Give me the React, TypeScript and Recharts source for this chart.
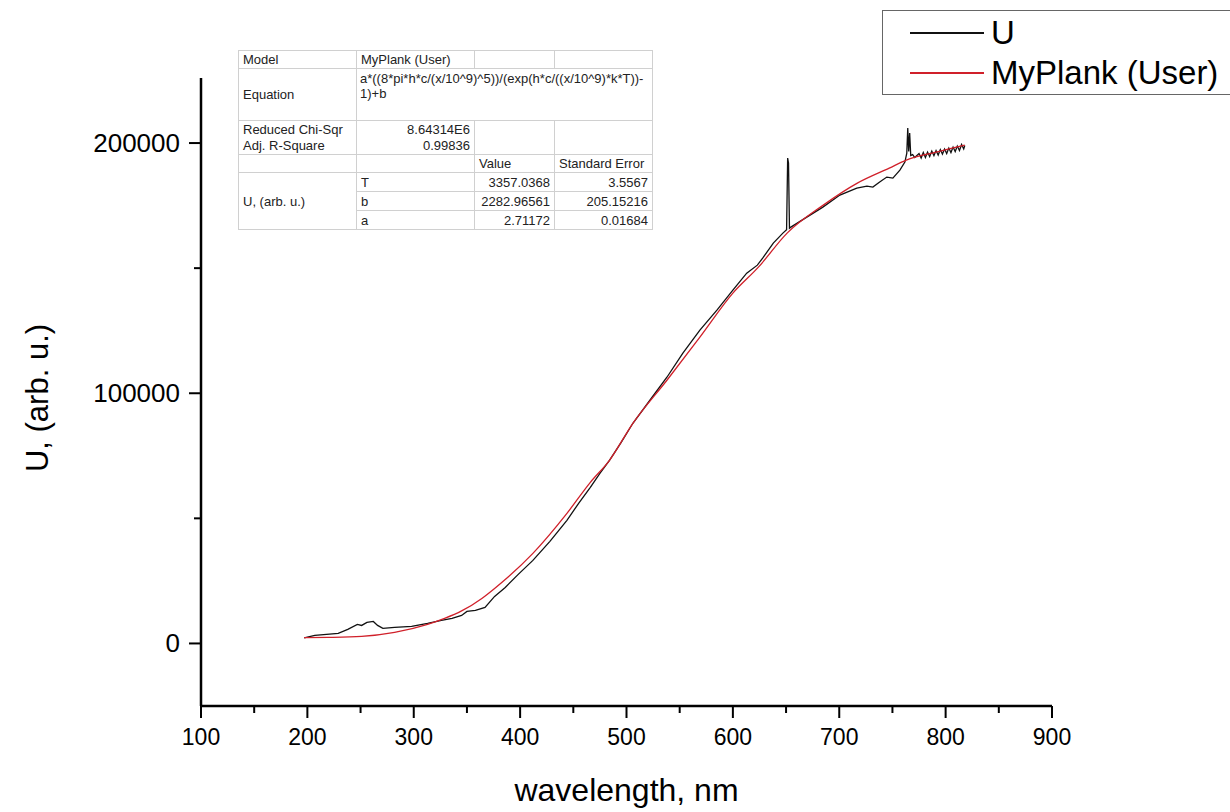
import React from 'react';
import { LineChart, Line, XAxis, YAxis, Legend } from 'recharts';

// measured spectrum U (wavelength nm -> arb. u.)
const uWl = [
  197, 207, 229, 238, 247, 251, 256, 262, 266, 271, 282, 298, 313, 326, 336, 345, 350, 358, 367, 376,
  386, 398, 412, 428, 444, 455, 466, 475, 484, 495, 506, 522, 538, 553, 569, 585, 600, 613, 623, 628,
  638, 647, 650.5, 651.5, 652.3, 653.2, 654.5, 669.5, 684.6, 700.6, 716.5, 726, 731.6, 738, 744.7, 750.4,
  757, 761.7, 763.5, 764.4, 765.3, 766.2, 767.2, 769, 771, 773, 775, 777, 779, 781, 783, 785, 787, 789,
  791, 793, 795, 797, 799, 801, 803, 805, 807, 809, 811, 813, 815, 817, 818,
];
const uVal = [
  2200, 3200, 4000, 5600, 7600, 7200, 8400, 8800, 7200, 6000, 6400, 6800, 8000, 9200, 10000, 11200, 12800, 13200, 14400, 18800,
  22400, 27500, 33200, 40800, 49200, 56000, 62400, 68000, 73200, 80400, 88000, 97200, 106400, 116000, 125200, 133200, 141200, 148000, 151200, 154000,
  160000, 164000, 165400, 194000, 192000, 166000, 166400, 170400, 174400, 179200, 182000, 182800, 182400, 184400, 186400, 186000,
  189200, 192400, 196000, 206000, 196600, 204000, 195000, 195400, 194200, 195000, 195800, 194000, 196200, 194200, 196400, 194600, 196800, 195000,
  197000, 195200, 197400, 195600, 197600, 195800, 198000, 196200, 198400, 196600, 198800, 197000, 199400, 197600, 199000,
];

// fitted curve MyPlank (User)
const fitWl = [197, 220, 251, 282, 313, 329, 345, 364, 376, 412, 444, 466, 484, 506, 538, 569, 600, 624, 651, 685, 717, 747, 763, 791, 818];
const fitVal = [
  2300, 2400, 2800, 4400, 7600, 10000, 13000, 18000, 22000, 36000, 52000, 64400, 73200, 88000, 105200, 122400, 140000,
  150400, 164000, 175200, 184000, 190000, 193200, 196400, 199200,
];

const xTicks = [100, 150, 200, 250, 300, 350, 400, 450, 500, 550, 600, 650, 700, 750, 800, 850, 900];
const yTicks = [0, 50000, 100000, 150000, 200000];

const paramNames = ['T', 'b', 'a'];
const paramValues = ['3357.0368', '2282.96561', '2.71172'];
const paramErrors = ['3.5567', '205.15216', '0.01684'];

const uData = uWl.map((wl, i) => ({ wl, u: uVal[i] }));
const fitData = fitWl.map((wl, i) => ({ wl, fit: fitVal[i] }));

const FONT = '"Liberation Sans", Arial, sans-serif';

function XTick({ x, y, payload }: any) {
  const major = payload.value % 100 === 0;
  return (
    <g>
      <line x1={x} x2={x} y1={y} y2={y + (major ? 12 : 7)} stroke="#000" strokeWidth={2} />
      {major && (
        <text x={x} y={y + 39} textAnchor="middle" fontSize={23} fontFamily={FONT} fill="#000">
          {payload.value}
        </text>
      )}
    </g>
  );
}

function YTick({ x, y, payload }: any) {
  const major = payload.value % 100000 === 0;
  return (
    <g>
      <line x1={x - (major ? 12 : 7)} x2={x} y1={y} y2={y} stroke="#000" strokeWidth={2} />
      {major && (
        <text x={x - 21} y={y + 9} textAnchor="end" fontSize={26} fontFamily={FONT} fill="#000">
          {payload.value}
        </text>
      )}
    </g>
  );
}

function renderLegend() {
  const items = [
    { color: '#111', label: 'U' },
    { color: '#d0202a', label: 'MyPlank (User)' },
  ];
  return (
    <div style={{ border: '1px solid #666', borderRight: 'none', height: 85, boxSizing: 'border-box', background: '#fff' }}>
      {items.map((it) => (
        <div key={it.label} style={{ display: 'flex', alignItems: 'center', height: 40, marginTop: it.label === 'U' ? 2 : 0 }}>
          <div style={{ width: 74, height: 1.5, background: it.color, marginLeft: 27, marginRight: 7 }} />
          <span style={{ fontFamily: FONT, fontSize: 33, color: '#000', whiteSpace: 'nowrap' }}>{it.label}</span>
        </div>
      ))}
    </div>
  );
}

const cell: React.CSSProperties = { border: '1px solid #d0d0d0', padding: '0 4px', whiteSpace: 'nowrap', overflow: 'hidden' };
const right: React.CSSProperties = { ...cell, textAlign: 'right' };

function FitTable() {
  return (
    <table
      style={{
        position: 'absolute', left: 238, top: 50, width: 414, borderCollapse: 'collapse', tableLayout: 'fixed',
        fontFamily: FONT, fontSize: 13, color: '#222', background: '#fff', border: '1px solid #999', lineHeight: '15px',
      }}
    >
      <colgroup>
        <col style={{ width: 118 }} />
        <col style={{ width: 118 }} />
        <col style={{ width: 80 }} />
        <col style={{ width: 98 }} />
      </colgroup>
      <tbody>
        <tr style={{ height: 18 }}>
          <td style={cell}>Model</td>
          <td style={cell}>MyPlank (User)</td>
          <td style={cell}></td>
          <td style={cell}></td>
        </tr>
        <tr style={{ height: 52 }}>
          <td style={cell}>Equation</td>
          <td colSpan={3} style={{ ...cell, verticalAlign: 'top', paddingTop: 2, paddingLeft: 3, overflow: 'visible' }}>
            a*((8*pi*h*c/(x/10^9)^5))/(exp(h*c/((x/10^9)*k*T))-
            <br />
            1)+b
          </td>
        </tr>
        <tr style={{ height: 17 }}>
          <td style={{ ...cell, borderBottom: 'none' }}>Reduced Chi-Sqr</td>
          <td style={{ ...right, borderBottom: 'none' }}>8.64314E6</td>
          <td rowSpan={2} style={cell}></td>
          <td rowSpan={2} style={cell}></td>
        </tr>
        <tr style={{ height: 17 }}>
          <td style={{ ...cell, borderTop: 'none' }}>Adj. R-Square</td>
          <td style={{ ...right, borderTop: 'none' }}>0.99836</td>
        </tr>
        <tr style={{ height: 18 }}>
          <td style={cell}></td>
          <td style={cell}></td>
          <td style={cell}>Value</td>
          <td style={cell}>Standard Error</td>
        </tr>
        {paramNames.map((p, i) => (
          <tr key={p} style={{ height: 19 }}>
            {i === 0 && (
              <td rowSpan={3} style={cell}>
                U, (arb. u.)
              </td>
            )}
            <td style={cell}>{p}</td>
            <td style={right}>{paramValues[i]}</td>
            <td style={right}>{paramErrors[i]}</td>
          </tr>
        ))}
      </tbody>
    </table>
  );
}

export default function App() {
  return (
    <div style={{ position: 'absolute', left: 0, top: 0, width: 1230, height: 812, background: '#fff', overflow: 'hidden' }}>
      <LineChart width={1230} height={812} margin={{ top: 78, right: 178, bottom: 0, left: 0 }}>
        <XAxis
          dataKey="wl"
          type="number"
          domain={[100, 900]}
          ticks={xTicks}
          interval={0}
          height={106}
          tickSize={0}
          tickMargin={0}
          tickLine={false}
          tick={<XTick />}
          axisLine={{ stroke: '#000', strokeWidth: 2.5 }}
          allowDataOverflow
          label={{
            content: ({ viewBox }: any) => (
              <text
                x={viewBox.x + viewBox.width / 2}
                y={viewBox.y + 95}
                textAnchor="middle"
                fontSize={32}
                fontFamily={FONT}
                fill="#000"
              >
                wavelength, nm
              </text>
            ),
          }}
        />
        <YAxis
          type="number"
          domain={[-25000, 226000]}
          ticks={yTicks}
          interval={0}
          width={201}
          tickSize={0}
          tickMargin={0}
          tickLine={false}
          tick={<YTick />}
          axisLine={{ stroke: '#000', strokeWidth: 2.5 }}
          allowDataOverflow
          label={{
            content: ({ viewBox }: any) => {
              const cx = viewBox.x + 48;
              const cy = viewBox.y + viewBox.height / 2 + 6;
              return (
                <text
                  x={cx}
                  y={cy}
                  transform={`rotate(-90 ${cx} ${cy})`}
                  textAnchor="middle"
                  fontSize={31}
                  fontFamily={FONT}
                  fill="#000"
                >
                  U, (arb. u.)
                </text>
              );
            },
          }}
        />
        <Legend
          layout="vertical"
          align="center"
          verticalAlign="middle"
          content={renderLegend}
          wrapperStyle={{ left: 882, top: 10, width: 420 }}
        />
        <Line
          data={uData}
          dataKey="u"
          name="U"
          type="linear"
          stroke="#111"
          strokeWidth={1.3}
          dot={false}
          isAnimationActive={false}
        />
        <Line
          data={fitData}
          dataKey="fit"
          name="MyPlank (User)"
          type="monotone"
          stroke="#d0202a"
          strokeWidth={1.3}
          dot={false}
          isAnimationActive={false}
        />
      </LineChart>
      <FitTable />
    </div>
  );
}
